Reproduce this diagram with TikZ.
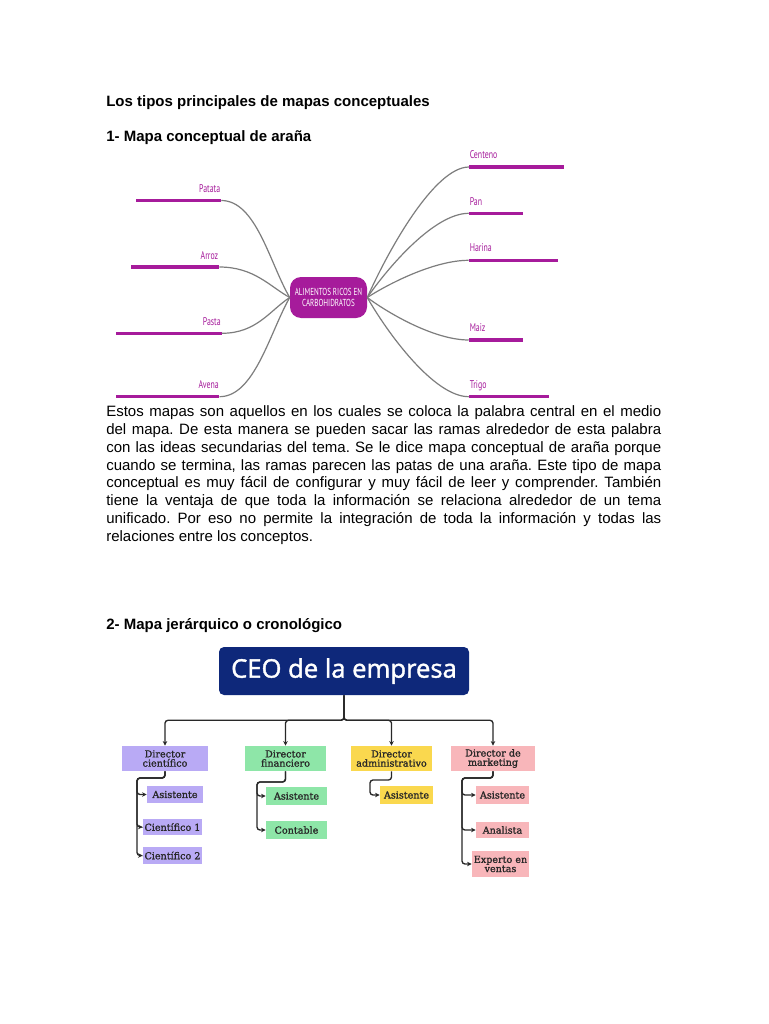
\documentclass[tikz,border=0pt]{standalone}
\usepackage{fontspec}
\setmainfont{Liberation Sans}
\newfontfamily\orgserif[FakeBold=1.3]{DejaVu Serif}
\newfontfamily\ceofont[FakeBold=1.6]{Open Sans}
\newfontfamily\narrowfont[FakeStretch=0.7]{PT Sans}
\usetikzlibrary{arrows.meta}
\newlength\pxu \setlength\pxu{0.75pt}
\definecolor{mag}{RGB}{166,27,155}
\definecolor{curvegray}{RGB}{125,125,125}
\definecolor{navy}{RGB}{14,40,122}
\definecolor{lav}{RGB}{185,170,245}
\definecolor{mint}{RGB}{142,230,168}
\definecolor{yel}{RGB}{250,216,78}
\definecolor{pinkb}{RGB}{248,182,186}
\definecolor{ink}{RGB}{40,40,40}
\tikzset{
 txt/.style={inner sep=0pt, anchor=base west, font=\frenchspacing\fontsize{11.25}{13.4}\selectfont},
 hd/.style={inner sep=0pt, anchor=base west, font=\fontsize{11.25}{13.4}\selectfont\bfseries},
 bar/.style={fill=mag, inner sep=0pt, minimum height=3.4\pxu},
 lab/.style={inner sep=0pt, text=mag, font=\narrowfont\fontsize{8.4}{9}\selectfont},
 leg/.style={draw=curvegray, line width=0.9pt},
 hub/.style={fill=mag, rounded corners=11\pxu, minimum width=77\pxu, minimum height=41\pxu, inner sep=0pt, text=white, align=center, font=\narrowfont\fontsize{7.6}{8.25}\selectfont},
 ceo/.style={fill=navy, rounded corners=5\pxu, minimum width=250\pxu, minimum height=48\pxu, text=white, font=\ceofont\fontsize{19.2}{20}\selectfont, inner sep=0pt},
 obox/.style={inner sep=0pt, align=center, text=ink, font=\orgserif\fontsize{7.2}{6.9}\selectfont},
 conn/.style={draw=ink, line width=1pt, rounded corners=3\pxu, -{Stealth[length=3.5pt,width=3.3pt]}},
}
\begin{document}
\begin{tikzpicture}[x=0.75pt,y=-0.75pt]
\useasboundingbox[fill=white] (0,0) rectangle (768,1024);

% headings
\node[hd] (h0) at (106,106.4) {Los tipos principales de mapas conceptuales};
\node[hd] (h1) at (106,141.8) {1- Mapa conceptual de araña};

% spider map
\node[hub] (hub) at (328.5,297.5) {ALIMENTOS RICOS EN\\CARBOHIDRATOS};

\node[bar, minimum width=85\pxu] (patata) at (178.5,200.5) {};
\node[bar, minimum width=88\pxu] (arroz) at (175,267) {};
\node[bar, minimum width=105.5\pxu] (pasta) at (168.75,333.3) {};
\node[bar, minimum width=103.3\pxu] (avena) at (167.6,396.7) {};
\node[bar, minimum width=94.7\pxu] (centeno) at (516.6,167) {};
\node[bar, minimum width=54\pxu] (pan) at (496,213.3) {};
\node[bar, minimum width=89.3\pxu] (harina) at (513.6,260.3) {};
\node[bar, minimum width=54\pxu] (maiz) at (496,340) {};
\node[bar, minimum width=80\pxu] (trigo) at (509,396.7) {};

\node[lab, anchor=base east] (lpatata) at (220.5,192) {Patata};
\node[lab, anchor=base east] (larroz) at (218.5,259) {Arroz};
\node[lab, anchor=base east] (lpasta) at (221,325.5) {Pasta};
\node[lab, anchor=base east] (lavena) at (219,388) {Avena};
\node[lab, anchor=base west] (lcenteno) at (469.5,158.5) {Centeno};
\node[lab, anchor=base west] (lpan) at (469.5,205) {Pan};
\node[lab, anchor=base west] (lharina) at (469.5,251.5) {Harina};
\node[lab, anchor=base west] (lmaiz) at (469.5,331.5) {Maiz};
\node[lab, anchor=base west] (ltrigo) at (469.5,388) {Trigo};

\draw[leg] (patata.east) .. controls +(35,0) and +(-20,-34) .. (hub.west);
\draw[leg] (arroz.east) .. controls +(35,0) and +(-20,-11) .. (hub.west);
\draw[leg] (pasta.east) .. controls +(35,0) and +(-20,13) .. (hub.west);
\draw[leg] (avena.east) .. controls +(35,0) and +(-20,35) .. (hub.west);
\draw[leg] (hub.east) .. controls +(20,-45) and +(-35,0) .. (centeno.west);
\draw[leg] (hub.east) .. controls +(20,-29) and +(-35,0) .. (pan.west);
\draw[leg] (hub.east) .. controls +(20,-13) and +(-35,0) .. (harina.west);
\draw[leg] (hub.east) .. controls +(20,15) and +(-35,0) .. (maiz.west);
\draw[leg] (hub.east) .. controls +(20,35) and +(-35,0) .. (trigo.west);

% paragraph
\node[txt] (p1) at (106,416.3) {\makebox[555\pxu][s]{Estos mapas son aquellos en los cuales se coloca la palabra central en el medio}};
\node[txt] (p2) at (106,434.2) {\makebox[555\pxu][s]{del mapa. De esta manera se pueden sacar las ramas alrededor de esta palabra}};
\node[txt] (p3) at (106,452.1) {\makebox[555\pxu][s]{con las ideas secundarias del tema. Se le dice mapa conceptual de araña porque}};
\node[txt] (p4) at (106,470) {\makebox[555\pxu][s]{cuando se termina, las ramas parecen las patas de una araña. Este tipo de mapa}};
\node[txt] (p5) at (106,487.9) {\makebox[555\pxu][s]{conceptual es muy fácil de configurar y muy fácil de leer y comprender. También}};
\node[txt] (p6) at (106,505.8) {\makebox[555\pxu][s]{tiene la ventaja de que toda la información se relaciona alrededor de un tema}};
\node[txt] (p7) at (106,523.7) {\makebox[555\pxu][s]{unificado. Por eso no permite la integración de toda la información y todas las}};
\node[txt] (p8) at (106,541.6) {relaciones entre los conceptos.};

\node[hd] (h2) at (106,629.5) {2- Mapa jerárquico o cronológico};

% org chart
\node[ceo] (ceo) at (344,671) {CEO de la empresa};

\node[obox, fill=lav, minimum width=86\pxu, minimum height=25\pxu] (d1) at (165,758.5) {Director\\científico};
\node[obox, fill=mint, minimum width=81\pxu, minimum height=25\pxu] (d2) at (285.5,758.5) {Director\\financiero};
\node[obox, fill=yel, minimum width=81\pxu, minimum height=25\pxu] (d3) at (391.5,758.5) {Director\\administrativo};
\node[obox, fill=pinkb, minimum width=84\pxu, minimum height=25\pxu] (d4) at (493,758.5) {Director de\\marketing};

\draw[conn] (ceo.south) -- ++(0,25) -| (d1.north);
\draw[conn] (ceo.south) -- ++(0,25) -| (d2.north);
\draw[conn] (ceo.south) -- ++(0,25) -| (d3.north);
\draw[conn] (ceo.south) -- ++(0,25) -| (d4.north);

\node[obox, fill=lav, minimum width=56\pxu, minimum height=17\pxu] (c11) at (175,794.5) {Asistente};
\node[obox, fill=lav, minimum width=59\pxu, minimum height=16\pxu] (c12) at (172.5,827) {Científico 1};
\node[obox, fill=lav, minimum width=59\pxu, minimum height=17\pxu] (c13) at (172.5,855.5) {Científico 2};
\node[obox, fill=mint, minimum width=61\pxu, minimum height=18\pxu] (c21) at (296.5,796) {Asistente};
\node[obox, fill=mint, minimum width=61\pxu, minimum height=18\pxu] (c22) at (296.5,830) {Contable};
\node[obox, fill=yel, minimum width=53\pxu, minimum height=18\pxu] (c31) at (406.5,795) {Asistente};
\node[obox, fill=pinkb, minimum width=53\pxu, minimum height=18\pxu] (c41) at (502.5,795) {Asistente};
\node[obox, fill=pinkb, minimum width=53\pxu, minimum height=16\pxu] (c42) at (502.5,830) {Analista};
\node[obox, fill=pinkb, minimum width=57\pxu, minimum height=26\pxu] (c43) at (500.5,864) {Experto en\\ventas};

\coordinate (b1) at (137,778);
\coordinate (b2) at (257,782);
\coordinate (b3) at (370,780);
\coordinate (b4) at (462,778);

\draw[conn] (d1.south) |- (b1) |- (c11.west);
\draw[conn] (d1.south) |- (b1) |- (c12.west);
\draw[conn] (d1.south) |- (b1) |- (c13.west);
\draw[conn] (d2.south) |- (b2) |- (c21.west);
\draw[conn] (d2.south) |- (b2) |- (c22.west);
\draw[conn] (d3.south) |- (b3) |- (c31.west);
\draw[conn] (d4.south) |- (b4) |- (c41.west);
\draw[conn] (d4.south) |- (b4) |- (c42.west);
\draw[conn] (d4.south) |- (b4) |- (c43.west);
\end{tikzpicture}
\end{document}
